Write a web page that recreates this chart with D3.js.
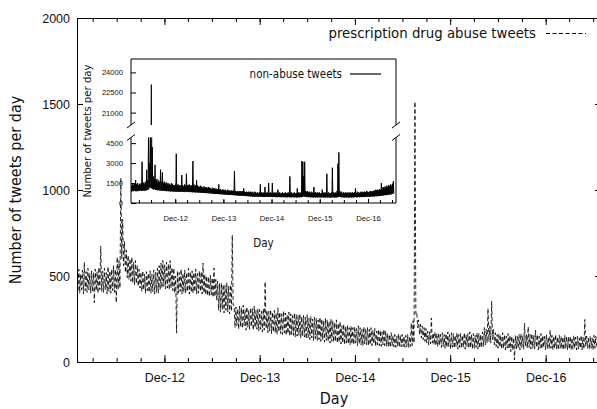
<!DOCTYPE html>
<html>
<head>
<meta charset="utf-8">
<script src="https://cdn.jsdelivr.net/npm/d3@7"></script>
<style>
body { margin: 0; background: #fff; }
svg { display: block; font-family: "DejaVu Sans Condensed", "DejaVu Sans", sans-serif; }
</style>
</head>
<body>
<div id="chart"></div>
<script>
// ===========================================
// Data: weekly high / low of the daily counts
var startDate = new Date(2012, 0, 1);
var endDate = new Date(2017, 6, 1);

var abuseHigh = [
  520, 540, 510, 535, 580, 525, 545, 515, 530, 520,
  540, 525, 550, 674, 530, 545, 520, 555, 530, 540,
  560, 540, 610, 590, 1070, 830, 700, 650, 620, 600,
  610, 580, 590, 560, 540, 520, 530, 510, 525, 515,
  530, 510, 535, 520, 545, 560, 575, 590, 565, 580,
  570, 590, 550, 545, 500, 530, 520, 540, 515, 535,
  520, 545, 525, 530, 520, 540, 515, 530, 525, 575,
  510, 500, 495, 505, 490, 546, 480, 470, 455, 460,
  450, 445, 460, 440, 450, 738, 330, 320, 310, 325,
  315, 330, 305, 320, 300, 315, 310, 325, 300, 310,
  305, 295, 310, 467, 300, 295, 305, 290, 300, 285,
  315, 290, 280, 295, 285, 275, 290, 280, 270, 285,
  275, 270, 280, 265, 270, 260, 275, 255, 265, 250,
  260, 255, 245, 260, 250, 240, 255, 245, 235, 250,
  240, 230, 245, 225, 235, 210, 220, 205, 215, 200,
  210, 200, 205, 195, 210, 200, 190, 205, 195, 200,
  190, 200, 185, 195, 180, 190, 185, 175, 190, 180,
  165, 160, 170, 155, 160, 150, 165, 155, 160, 150,
  155, 160, 150, 226, 240, 1513, 290, 245, 220, 210,
  200, 195, 180, 175, 256, 170, 175, 165, 170, 160,
  170, 160, 165, 175, 160, 170, 165, 155, 170, 160,
  165, 155, 170, 160, 165, 175, 160, 165, 155, 170,
  165, 160, 175, 200, 190, 312, 210, 354, 190, 170,
  160, 165, 155, 170, 160, 150, 165, 155, 150, 140,
  155, 150, 160, 165, 155, 226, 160, 205, 160, 165,
  155, 186, 160, 150, 165, 155, 150, 160, 145, 186,
  155, 150, 160, 145, 155, 150, 145, 155, 150, 145,
  150, 140, 155, 145, 150, 140, 155, 145, 247, 150,
  145, 150, 140, 155, 150
];
var abuseLow = [
  410, 400, 420, 395, 415, 405, 420, 400, 410, 345,
  415, 400, 420, 410, 405, 420, 395, 410, 400, 415,
  405, 345, 420, 430, 600, 560, 520, 490, 480, 470,
  460, 450, 455, 440, 430, 410, 420, 400, 415, 405,
  400, 410, 395, 405, 400, 420, 430, 440, 425, 430,
  420, 430, 415, 400, 168, 400, 410, 395, 405, 400,
  410, 395, 405, 400, 410, 395, 400, 410, 395, 400,
  390, 385, 380, 390, 375, 380, 360, 300, 290, 305,
  285, 300, 290, 280, 295, 330, 200, 210, 190, 205,
  195, 210, 185, 200, 190, 205, 185, 200, 190, 180,
  190, 175, 185, 195, 170, 180, 165, 175, 170, 160,
  175, 165, 160, 170, 155, 165, 150, 160, 155, 145,
  150, 155, 140, 150, 145, 135, 140, 130, 140, 125,
  135, 125, 130, 120, 130, 115, 125, 120, 110, 120,
  115, 120, 110, 115, 105, 110, 100, 110, 105, 100,
  105, 100, 110, 95, 105, 100, 95, 105, 100, 95,
  100, 95, 105, 90, 100, 95, 90, 100, 95, 90,
  90, 85, 95, 88, 85, 90, 85, 88, 90, 85,
  88, 85, 90, 95, 110, 280, 200, 160, 140, 130,
  120, 110, 100, 105, 110, 100, 95, 90, 100, 85,
  90, 80, 85, 90, 75, 85, 80, 90, 75, 85,
  80, 85, 75, 90, 80, 85, 75, 80, 85, 75,
  80, 85, 90, 100, 110, 120, 110, 130, 100, 90,
  80, 85, 75, 80, 70, 80, 75, 60, 70, 12,
  75, 80, 70, 85, 75, 90, 80, 85, 75, 80,
  75, 85, 70, 80, 75, 85, 70, 80, 75, 80,
  70, 80, 75, 70, 80, 75, 70, 80, 70, 75,
  70, 75, 80, 70, 75, 80, 70, 75, 90, 80,
  75, 80, 70, 80, 75
];

var nonAbuseHigh = [
  1400, 1300, 1500, 1350, 1450, 1730, 1400, 1500, 1350, 1450,
  1400, 1500, 3100, 1450, 1550, 1400, 1600, 2500, 1700, 5600,
  3000, 6000, 23100, 4200, 2000, 1800, 2870, 1700, 1800, 1600,
  1700, 1550, 2500, 1600, 2300, 1500, 1600, 1450, 1550, 1400,
  1500, 1400, 1450, 1350, 1500, 1400, 1350, 1300, 1400, 3700,
  1350, 1400, 1300, 1350, 1300, 2100, 1350, 1250, 1400, 1300,
  2200, 1350, 1300, 1400, 1250, 1350, 1300, 3150, 1400, 1300,
  1350, 1700, 1300, 1250, 1200, 1300, 1250, 1200, 1150, 1250,
  1200, 1150, 1200, 1100, 1200, 1150, 1100, 1050, 1150, 1100,
  1100, 1050, 1100, 1000, 1050, 1400, 1000, 1050, 950, 1000,
  1000, 950, 1000, 900, 950, 1000, 900, 950, 900, 950,
  900, 950, 2400, 900, 850, 900, 850, 900, 850, 900,
  850, 900, 1100, 850, 800, 850, 800, 850, 800, 850,
  800, 850, 800, 750, 850, 800, 750, 800, 750, 800,
  1400, 800, 750, 800, 750, 1200, 800, 750, 800, 1500,
  750, 800, 750, 1500, 750, 800, 750, 800, 700, 1000,
  750, 800, 700, 750, 800, 700, 750, 800, 700, 750,
  800, 750, 2000, 750, 800, 700, 750, 800, 700, 750,
  1100, 800, 750, 800, 750, 3150, 3100, 2000, 3100, 900,
  850, 900, 800, 850, 750, 850, 800, 750, 1200, 800,
  800, 750, 800, 750, 800, 700, 750, 1000, 750, 800,
  750, 800, 2200, 750, 800, 700, 750, 800, 2650, 800,
  750, 800, 750, 900, 2950, 3800, 900, 800, 850, 750,
  800, 750, 800, 750, 800, 700, 800, 750, 800, 750,
  800, 750, 800, 1100, 750, 850, 800, 750, 800, 850,
  800, 850, 800, 850, 800, 900, 850, 800, 850, 900,
  850, 900, 850, 950, 900, 1000, 950, 1000, 950, 1050,
  1000, 1500, 1100, 1200, 1100, 1250, 1150, 1300, 1200, 1350,
  1250, 1400, 1300, 1450, 1650
];
var nonAbuseLow = [
  850, 900, 880, 950, 900, 870, 920, 890, 940, 900,
  950, 900, 930, 950, 920, 960, 940, 980, 1000, 1100,
  1200, 1150, 1100, 1050, 1000, 1050, 980, 1000, 950, 980,
  940, 960, 920, 950, 900, 930, 900, 920, 880, 900,
  880, 900, 860, 890, 870, 850, 880, 840, 870, 850,
  860, 840, 870, 830, 850, 860, 830, 850, 820, 840,
  830, 850, 820, 840, 810, 830, 800, 820, 810, 790,
  810, 790, 800, 780, 790, 770, 780, 760, 770, 750,
  760, 740, 750, 730, 740, 720, 730, 700, 720, 690,
  700, 680, 690, 670, 680, 660, 670, 650, 660, 640,
  650, 630, 640, 620, 630, 610, 620, 600, 610, 590,
  600, 580, 590, 570, 580, 560, 570, 550, 560, 540,
  550, 530, 540, 520, 530, 510, 520, 500, 510, 490,
  500, 480, 490, 470, 490, 480, 470, 490, 460, 480,
  470, 480, 460, 470, 450, 470, 460, 480, 450, 470,
  460, 450, 470, 440, 460, 450, 440, 460, 430, 450,
  440, 460, 430, 450, 440, 430, 450, 420, 440, 430,
  450, 430, 440, 420, 450, 430, 420, 440, 430, 410,
  430, 440, 420, 450, 430, 460, 500, 480, 470, 450,
  440, 460, 430, 450, 420, 440, 430, 410, 440, 420,
  430, 410, 440, 420, 430, 410, 420, 440, 410, 430,
  420, 440, 410, 430, 420, 400, 430, 410, 440, 420,
  410, 430, 420, 440, 460, 480, 450, 430, 440, 420,
  430, 410, 440, 420, 430, 400, 420, 440, 410, 430,
  420, 440, 430, 450, 420, 440, 450, 430, 460, 440,
  450, 470, 440, 460, 480, 450, 470, 490, 460, 480,
  500, 480, 510, 490, 520, 500, 530, 510, 540, 520,
  560, 540, 580, 560, 600, 580, 620, 600, 640, 620,
  660, 640, 700, 680, 720
];

var mainYTicks = [0, 500, 1000, 1500, 2000];
var insetUpperTicks = [21000, 22500, 24000];
var insetLowerTicks = [0, 1500, 3000, 4500];
var decTicks = [2012, 2013, 2014, 2015, 2016].map(y => new Date(y, 11, 1));
var decLabels = ["Dec-12", "Dec-13", "Dec-14", "Dec-15", "Dec-16"];
var minorTicks = d3.timeMonths(new Date(2012, 2, 1), endDate, 3);

// each week: the high day, then the low day half a week later
function weeklyPoints(high, low) {
  var pts = [];
  high.forEach(function(h, i) {
    var wk = d3.timeDay.offset(startDate, 7 * i);
    pts.push({date: wk, value: h});
    pts.push({date: d3.timeHour.offset(wk, 84), value: low[i]});
  });
  return pts;
}
var abuse = weeklyPoints(abuseHigh, abuseLow);
var nonAbuse = weeklyPoints(nonAbuseHigh, nonAbuseLow);

// ===========================================
// SVG & main chart area
var svgWidth = 597, svgHeight = 409;
var plot = {left: 77, right: 601, top: 18, bottom: 362};
var fmt = d3.format("d");

var svg = d3.select("#chart").append("svg")
    .attr("width", svgWidth)
    .attr("height", svgHeight);

var x = d3.scaleTime().domain([startDate, endDate]).range([plot.left, plot.right]);
var y = d3.scaleLinear().domain([0, 2000]).range([plot.bottom, plot.top]);

svg.append("clipPath").attr("id", "mainClip")
  .append("rect")
    .attr("x", plot.left).attr("y", plot.top)
    .attr("width", plot.right - plot.left).attr("height", plot.bottom - plot.top);

// dashed abuse series
svg.append("path")
    .datum(abuse)
    .attr("clip-path", "url(#mainClip)")
    .attr("fill", "none")
    .attr("stroke", "#000")
    .attr("stroke-width", 0.85)
    .attr("stroke-dasharray", "4,2.5")
    .attr("d", d3.line().x(d => x(d.date)).y(d => y(d.value)));

// axes (ticks point inward, mirrored like gnuplot)
function styleAxis(g) {
  g.select(".domain").remove();
  g.selectAll(".tick line").attr("stroke", "#000");
  g.selectAll("text").attr("fill", "#111");
}

svg.append("g")
    .attr("transform", `translate(0,${plot.bottom})`)
    .call(d3.axisBottom(x).tickValues(decTicks).tickSize(-7).tickPadding(11)
      .tickFormat((d, i) => decLabels[i]))
    .call(styleAxis)
    .selectAll("text").attr("font-size", "12.5px");
svg.append("g")
    .attr("transform", `translate(0,${plot.bottom})`)
    .call(d3.axisBottom(x).tickValues(minorTicks).tickSize(-4).tickFormat(""))
    .call(styleAxis);
svg.append("g")
    .attr("transform", `translate(0,${plot.top})`)
    .call(d3.axisTop(x).tickValues(decTicks).tickSize(-7).tickFormat(""))
    .call(styleAxis);
svg.append("g")
    .attr("transform", `translate(0,${plot.top})`)
    .call(d3.axisTop(x).tickValues(minorTicks).tickSize(-4).tickFormat(""))
    .call(styleAxis);

svg.append("g")
    .attr("transform", `translate(${plot.left},0)`)
    .call(d3.axisLeft(y).tickValues(mainYTicks).tickSize(-6).tickPadding(7).tickFormat(fmt))
    .call(styleAxis)
    .selectAll("text").attr("font-size", "12.5px");
svg.append("g")
    .attr("transform", `translate(${plot.right},0)`)
    .call(d3.axisRight(y).tickValues(mainYTicks).tickSize(-6).tickFormat(""))
    .call(styleAxis);

svg.append("rect")
    .attr("x", plot.left + 0.5).attr("y", plot.top + 0.5)
    .attr("width", plot.right - plot.left).attr("height", plot.bottom - plot.top)
    .attr("fill", "none").attr("stroke", "#000");

svg.append("text")
    .attr("transform", `translate(21,${(plot.top + plot.bottom) / 2}) rotate(-90)`)
    .attr("text-anchor", "middle")
    .attr("font-size", "16px")
    .attr("fill", "#111")
    .text("Number of tweets per day");

svg.append("text")
    .attr("x", 334).attr("y", 404)
    .attr("text-anchor", "middle")
    .attr("font-size", "16px")
    .attr("fill", "#111")
    .text("Day");

// main legend
svg.append("text")
    .attr("x", 536).attr("y", 33)
    .attr("dy", "0.35em")
    .attr("text-anchor", "end")
    .attr("font-size", "14.8px")
    .attr("fill", "#111")
    .text("prescription drug abuse tweets");
svg.append("line")
    .attr("x1", 546).attr("x2", 586).attr("y1", 33.5).attr("y2", 33.5)
    .attr("stroke", "#000").attr("stroke-dasharray", "4,2.5");

// ===========================================
// Inset with broken y axis
var inset = {left: 131, right: 396, top: 59, bottom: 203, breakHi: 125, breakLo: 137.5};
var ix = d3.scaleTime().domain([startDate, endDate]).range([inset.left, inset.right]);
var iyUp = d3.scaleLinear().domain([20000, 25000]).range([126, 59]);
var iyLo = d3.scaleLinear().domain([0, 5000]).range([203, 136.5]);

var ig = svg.append("g");
ig.append("rect")
    .attr("x", inset.left).attr("y", inset.top)
    .attr("width", inset.right - inset.left).attr("height", inset.bottom - inset.top)
    .attr("fill", "#fff");

ig.append("clipPath").attr("id", "upClip")
  .append("rect").attr("x", inset.left).attr("y", inset.top)
    .attr("width", inset.right - inset.left).attr("height", inset.breakHi - inset.top);
ig.append("clipPath").attr("id", "loClip")
  .append("rect").attr("x", inset.left).attr("y", inset.breakLo)
    .attr("width", inset.right - inset.left).attr("height", inset.bottom - inset.breakLo);

ig.append("path")
    .datum(nonAbuse)
    .attr("clip-path", "url(#loClip)")
    .attr("fill", "none").attr("stroke", "#000").attr("stroke-width", 1)
    .attr("d", d3.line().x(d => ix(d.date)).y(d => iyLo(d.value)));
ig.append("path")
    .datum(nonAbuse)
    .attr("clip-path", "url(#upClip)")
    .attr("fill", "none").attr("stroke", "#000").attr("stroke-width", 1.2)
    .attr("d", d3.line().x(d => ix(d.date)).y(d => iyUp(d.value)));

ig.append("g")
    .attr("transform", `translate(0,${inset.bottom})`)
    .call(d3.axisBottom(ix).tickValues(decTicks).tickSize(-4).tickPadding(13)
      .tickFormat((d, i) => decLabels[i]))
    .call(styleAxis)
    .selectAll("text").attr("font-size", "7.6px");
ig.append("g")
    .attr("transform", `translate(0,${inset.bottom})`)
    .call(d3.axisBottom(ix).tickValues(minorTicks).tickSize(-3).tickFormat(""))
    .call(styleAxis);
ig.append("g")
    .attr("transform", `translate(${inset.left},0)`)
    .call(d3.axisLeft(iyUp).tickValues(insetUpperTicks).tickSize(-5).tickPadding(8).tickFormat(fmt))
    .call(styleAxis)
    .selectAll("text").attr("font-size", "7.6px");
ig.append("g")
    .attr("transform", `translate(${inset.left},0)`)
    .call(d3.axisLeft(iyLo).tickValues(insetLowerTicks).tickSize(-5).tickPadding(8).tickFormat(fmt))
    .call(styleAxis)
    .selectAll("text").attr("font-size", "7.6px");

// inset frame: broken side lines
var frame = [
  [[inset.left, inset.breakHi], [inset.left, inset.top], [inset.right, inset.top], [inset.right, inset.breakHi]],
  [[inset.left, inset.breakLo], [inset.left, inset.bottom], [inset.right, inset.bottom], [inset.right, inset.breakLo]]
];
ig.selectAll(".frame").data(frame).enter().append("path")
    .attr("fill", "none").attr("stroke", "#000")
    .attr("d", d3.line());
[inset.left, inset.right].forEach(function(bx) {
  [inset.breakHi, inset.breakLo].forEach(function(by) {
    ig.append("line")
      .attr("x1", bx - 4).attr("y1", by + 3)
      .attr("x2", bx + 4).attr("y2", by - 3)
      .attr("stroke", "#000");
  });
});

ig.append("text")
    .attr("transform", `translate(91,${(inset.top + inset.bottom) / 2}) rotate(-90)`)
    .attr("text-anchor", "middle")
    .attr("font-size", "11.3px")
    .attr("fill", "#111")
    .text("Number of tweets per day");
ig.append("text")
    .attr("x", (inset.left + inset.right) / 2).attr("y", 246.5)
    .attr("text-anchor", "middle")
    .attr("font-size", "11.5px")
    .attr("fill", "#111")
    .text("Day");

ig.append("text")
    .attr("x", 342).attr("y", 73.5)
    .attr("dy", "0.35em")
    .attr("text-anchor", "end")
    .attr("font-size", "11.5px")
    .attr("fill", "#111")
    .text("non-abuse tweets");
ig.append("line")
    .attr("x1", 350).attr("x2", 381).attr("y1", 74).attr("y2", 74)
    .attr("stroke", "#000").attr("stroke-width", 1.2);
</script>
</body>
</html>
